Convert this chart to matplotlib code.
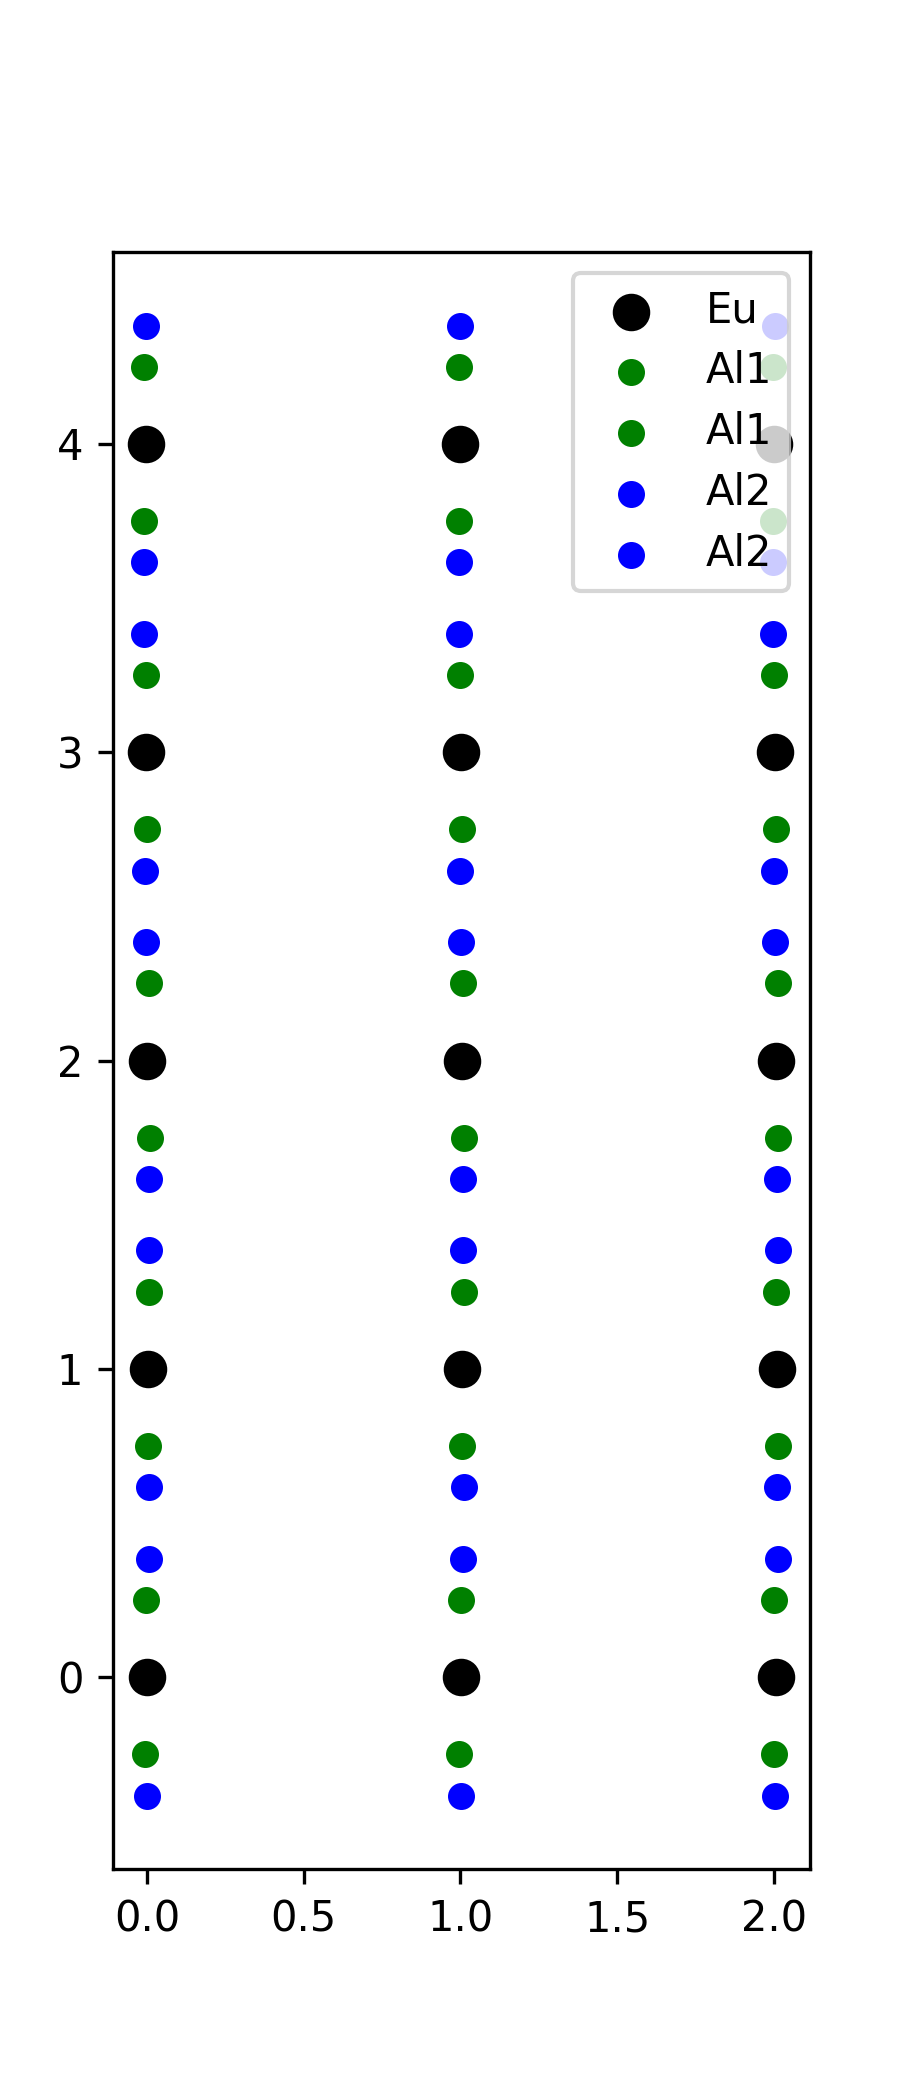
import matplotlib
matplotlib.use("Agg")
import matplotlib.pyplot as plt
import numpy as np

# z levels (fractional c coordinate, in units of cells)
eu_z = [0, 1, 2, 3, 4]
al1a_z = [0.25, 1.25, 2.25, 3.25, 4.25]
al1b_z = [-0.25, 0.75, 1.75, 2.75, 3.75]
al2a_z = [0.384, 1.384, 2.384, 3.384, 4.384]
al2b_z = [-0.384, 0.616, 1.616, 2.616, 3.616]

# x positions per column (cell 0, 1, 2), same order as the z lists
eu_x = [[0.001, 0.004, 0.001, -0.002, -0.002],
        [1.003, 1.006, 1.006, 1.003, 0.999],
        [2.007, 2.011, 2.007, 2.004, 2.001]]
al1a_x = [[-0.002, 0.007, 0.007, -0.002, -0.009],
          [1.003, 1.012, 1.009, 0.999, 0.996],
          [2.001, 2.007, 2.014, 2.001, 1.998]]
al1b_x = [[-0.005, 0.004, 0.011, 0.001, -0.009],
          [0.996, 1.006, 1.012, 1.006, 0.996],
          [2.001, 2.014, 2.014, 2.007, 1.998]]
al2a_x = [[0.007, 0.007, -0.002, -0.009, -0.002],
          [1.009, 1.009, 1.003, 0.996, 0.999],
          [2.014, 2.014, 2.004, 1.998, 2.004]]
al2b_x = [[0.001, 0.007, 0.007, -0.005, -0.009],
          [1.003, 1.012, 1.009, 0.999, 0.996],
          [2.004, 2.011, 2.011, 2.001, 1.998]]

series = [
    ("Eu", eu_x, eu_z, "k", 64),
    ("Al1", al1a_x, al1a_z, "g", 30),
    ("Al1", al1b_x, al1b_z, "g", 30),
    ("Al2", al2a_x, al2a_z, "b", 30),
    ("Al2", al2b_x, al2b_z, "b", 30),
]

fig, ax = plt.subplots(figsize=(3, 7), dpi=300)

for label, xs, zs, color, size in series:
    x = np.concatenate([np.asarray(col) for col in xs])
    z = np.tile(zs, len(xs))
    ax.scatter(x, z, c=color, s=size, label=label)

ax.legend(loc="upper right", labelspacing=0.45)

fig.savefig("out.png", dpi=300)
